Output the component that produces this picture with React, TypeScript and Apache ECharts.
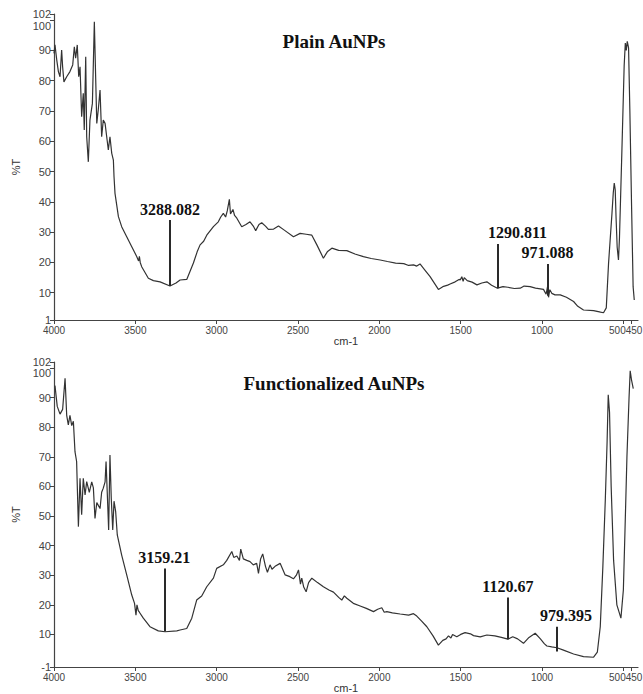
import React, { useEffect, useRef } from 'react';
import * as echarts from 'echarts';

// ---------- data ----------
const xTickValues = [4000, 3500, 3000, 2500, 2000, 1500, 1000, 500, 450];
const plainYTicks = [1, 10, 20, 30, 40, 50, 60, 70, 80, 90, 100, 102];
const funcYTicks = [-1, 10, 20, 30, 40, 50, 60, 70, 80, 90, 100, 102];
const crowdedYTick = 100;

const plainWavenumbers = [
  4000, 3994, 3983, 3973, 3963, 3953, 3947, 3939, 3922, 3902, 3885, 3875, 3867, 3857, 3848, 3840,
  3830, 3820, 3814, 3805, 3799, 3789, 3779, 3764, 3752, 3744, 3737, 3728, 3717, 3707, 3697, 3686,
  3676, 3666, 3656, 3645, 3635, 3631, 3625, 3604, 3584, 3553, 3522, 3491, 3480, 3475, 3470, 3461,
  3420, 3389, 3348, 3287, 3250, 3225, 3184, 3143, 3120, 3102, 3080, 3061, 3020, 2990, 2975, 2959,
  2945, 2935, 2922, 2915, 2900, 2890, 2876, 2846, 2820, 2795, 2775, 2760, 2740, 2723, 2700, 2682,
  2650, 2620, 2580, 2528, 2487, 2450, 2415, 2384, 2344, 2320, 2292, 2250, 2200, 2150, 2098, 2050,
  1995, 1950, 1900, 1850, 1820, 1790, 1770, 1750, 1720, 1688, 1660, 1637, 1610, 1580, 1565, 1534,
  1510, 1503, 1493, 1485, 1478, 1460, 1430, 1400, 1370, 1339, 1310, 1274, 1240, 1210, 1170, 1134,
  1110, 1073, 1040, 1010, 991, 975, 966, 960, 952, 940, 920, 888, 850, 806, 780, 745,
  683, 640, 622, 605, 591, 570, 562, 556, 550, 545, 538, 530, 524, 510, 495, 488,
  482, 476, 468, 460, 450, 440, 433,
];
const plainTransmittance = [
  89.0, 91.8, 86.8, 83.0, 81.3, 90.1, 84.6, 79.6, 81.3, 83.0, 85.2, 91.2, 87.4, 91.8, 81.3, 84.6,
  68.1, 75.8, 63.7, 87.9, 61.5, 53.2, 67.0, 72.5, 99.4, 81.3, 65.9, 70.3, 76.9, 61.5, 67.0, 65.9,
  61.5, 57.1, 61.5, 56.0, 53.8, 48.3, 42.8, 35.1, 31.8, 28.5, 25.2, 21.9, 20.5, 22.0, 20.0, 18.6,
  14.8, 14.0, 13.6, 12.2, 13.2, 14.2, 14.4, 19.8, 23.5, 25.8, 27.0, 29.0, 31.8, 33.4, 35.0, 36.2,
  35.0, 37.0, 40.8, 36.0, 37.5, 35.5, 34.6, 31.8, 32.5, 33.4, 32.0, 30.5, 32.5, 33.1, 32.0, 30.9,
  31.0, 32.0, 30.5, 28.5, 29.6, 29.3, 29.0, 25.8, 21.4, 23.5, 24.7, 24.0, 23.9, 22.8, 21.9, 21.3,
  20.8, 20.3, 19.8, 19.6, 19.0, 19.2, 18.8, 19.5, 17.5, 15.3, 13.0, 11.1, 12.0, 12.5, 12.9, 13.6,
  14.4, 14.2, 15.3, 13.8, 15.0, 14.0, 13.5, 12.6, 13.2, 13.6, 12.5, 11.5, 12.0, 11.8, 11.4, 11.5,
  12.2, 12.0, 11.5, 11.3, 11.1, 9.5, 12.0, 8.5, 11.0, 9.8, 9.3, 9.3, 8.5, 7.1, 5.5, 4.3,
  4.1, 3.6, 3.4, 5.0, 19.7, 36.2, 43.0, 46.2, 44.0, 35.0, 25.0, 20.8, 28.0, 55.0, 85.0, 92.4,
  90.0, 93.0, 90.8, 70.0, 40.0, 12.0, 7.6,
];

const funcWavenumbers = [
  3994, 3980, 3963, 3947, 3932, 3922, 3912, 3902, 3891, 3881, 3871, 3861, 3850, 3840, 3830, 3820,
  3809, 3799, 3783, 3768, 3758, 3748, 3737, 3717, 3707, 3697, 3686, 3680, 3672, 3664, 3656, 3648,
  3639, 3631, 3621, 3611, 3584, 3553, 3522, 3505, 3496, 3490, 3482, 3475, 3451, 3410, 3359, 3317,
  3245, 3225, 3184, 3153, 3123, 3092, 3061, 3020, 3000, 2959, 2938, 2907, 2895, 2876, 2860, 2852,
  2836, 2815, 2795, 2775, 2754, 2743, 2730, 2717, 2700, 2688, 2672, 2660, 2641, 2610, 2579, 2550,
  2528, 2510, 2497, 2485, 2477, 2465, 2450, 2435, 2415, 2380, 2344, 2310, 2282, 2250, 2231, 2215,
  2200, 2160, 2118, 2080, 2036, 2010, 1985, 1970, 1954, 1920, 1872, 1820, 1790, 1770, 1740, 1708,
  1670, 1637, 1610, 1590, 1575, 1560, 1550, 1524, 1500, 1473, 1440, 1421, 1380, 1339, 1290, 1250,
  1210, 1180, 1150, 1114, 1080, 1042, 1010, 985, 970, 940, 908, 868, 806, 745, 683, 660,
  642, 626, 611, 600, 593, 585, 575, 560, 540, 515, 500, 490, 478, 465, 458, 450,
  439,
];
const funcTransmittance = [
  94.0, 87.0, 84.4, 86.0, 96.5, 84.0, 80.8, 84.0, 80.5, 82.0, 71.7, 68.4, 46.4, 62.7, 50.4, 62.7,
  57.1, 61.6, 58.0, 61.5, 59.5, 49.2, 54.5, 52.5, 58.0, 59.4, 61.5, 68.4, 57.0, 45.3, 70.6, 56.0,
  45.3, 55.0, 51.5, 43.6, 36.8, 30.1, 23.3, 20.5, 16.5, 20.0, 18.0, 17.5, 15.5, 12.6, 11.2, 10.9,
  11.2, 11.5, 12.0, 15.5, 21.6, 23.0, 26.1, 29.0, 32.3, 33.5, 35.0, 38.0, 36.0, 36.5, 35.0, 38.8,
  35.5, 35.0, 34.6, 33.5, 34.0, 30.6, 35.5, 37.2, 33.0, 31.0, 33.5, 32.0, 33.0, 34.0, 30.1, 29.5,
  28.8, 30.0, 31.8, 27.0, 29.0, 26.0, 24.4, 27.5, 29.0, 27.5, 26.1, 25.0, 24.3, 22.5, 21.6, 23.0,
  22.2, 20.5, 19.6, 18.8, 17.7, 18.5, 19.0, 17.5, 17.7, 17.3, 16.9, 16.5, 17.0, 16.2, 14.5, 12.6,
  9.5, 6.4, 8.0, 8.5, 9.5, 8.8, 10.0, 9.2, 10.0, 10.6, 10.2, 9.6, 9.2, 9.8, 9.5, 9.0,
  8.4, 9.2, 8.5, 7.0, 9.0, 10.4, 8.5, 6.8, 6.1, 5.8, 5.5, 4.7, 3.4, 2.5, 2.3, 4.0,
  12.6, 32.9, 55.4, 75.0, 90.9, 85.0, 60.0, 35.0, 20.0, 15.5, 25.0, 45.0, 70.0, 90.0, 99.0, 96.0,
  93.0,
];

// annotation peaks: label, position (cm-1), line bottom and top (%T)
const plainPeakLabels = ['3288.082', '1290.811', '971.088'];
const plainPeakWn = [3287, 1274, 966];
const plainPeakFrom = [12.2, 11.5, 9.0];
const plainPeakTo = [34.0, 26.1, 19.5];

const funcPeakLabels = ['3159.21', '1120.67', '979.395'];
const funcPeakWn = [3322, 1210, 908];
const funcPeakFrom = [11.0, 8.4, 4.2];
const funcPeakTo = [32.3, 22.5, 12.6];

const titles = ['Plain AuNPs', 'Functionalized AuNPs'];

// ---------- helpers ----------
const zip = (a: number[], b: number[]) => a.map((v, i) => [v, b[i]]);

const labelOffsets: Record<string, number[]> = {
  '1290.811': [20, 0],
  '979.395': [9, 0],
};

const buildMarkLine = (labels: string[], wn: number[], from: number[], to: number[]) => ({
  symbol: ['none', 'none'],
  silent: true,
  lineStyle: { color: '#2a2a2a', width: 2, type: 'solid' },
  label: {
    show: true,
    position: 'end',
    distance: 3,
    fontFamily: '"Liberation Serif", "Times New Roman", serif',
    fontWeight: 'bold',
    fontSize: 16,
    color: '#111',
  },
  data: labels.map((l, i) => [
    {
      coord: [wn[i], from[i]],
      label: {
        formatter: l,
        offset: labelOffsets[l] || [0, 0],
      },
    },
    { coord: [wn[i], to[i]] },
  ]),
});

const axisFont = '"Liberation Sans", Arial, sans-serif';

const makeXAxis = (gridIndex: number, nameGap: number) => ({
  type: 'value',
  gridIndex,
  inverse: true,
  min: 410,
  max: 4000,
  name: 'cm-1',
  nameLocation: 'middle',
  nameGap,
  nameTextStyle: { fontFamily: axisFont, fontSize: 11, color: '#333' },
  axisLine: { show: true, onZero: false, lineStyle: { color: '#444', width: 1.2 } },
  axisTick: { show: true, customValues: xTickValues, length: 4, lineStyle: { color: '#444' } },
  axisLabel: {
    show: true,
    customValues: xTickValues,
    margin: 5,
    hideOverlap: false,
    showMinLabel: true,
    showMaxLabel: true,
    fontFamily: axisFont,
    fontSize: 10,
    color: '#444',
    formatter: (v: number) => (v === 500 ? '{a|500}' : v === 450 ? '{b|450}' : String(v)),
    rich: {
      a: { padding: [0, 12, 0, 0], fontFamily: axisFont, fontSize: 10, color: '#444' },
      b: { padding: [0, 0, 0, 5], fontFamily: axisFont, fontSize: 10, color: '#444' },
    },
  },
  splitLine: { show: false },
});

const makeYAxis = (gridIndex: number, min: number, ticks: number[]) => ({
  type: 'value',
  gridIndex,
  min,
  max: 102,
  name: '%T',
  nameLocation: 'middle',
  nameGap: 30,
  nameRotate: 90,
  nameTextStyle: { fontFamily: axisFont, fontSize: 11, color: '#333' },
  axisLine: { show: true, onZero: false, lineStyle: { color: '#444', width: 1.2 } },
  axisTick: { show: true, customValues: ticks, length: 4, lineStyle: { color: '#444' } },
  axisLabel: {
    show: true,
    customValues: ticks.filter((t) => t !== crowdedYTick),
    margin: 3,
    hideOverlap: false,
    showMinLabel: true,
    showMaxLabel: true,
    fontFamily: axisFont,
    fontSize: 11,
    color: '#444',
  },
  splitLine: { show: false },
});

// second (label-only) y axis carrying the crowded "100" label just below "102"
const makeCrowdedYAxis = (gridIndex: number, min: number) => ({
  type: 'value',
  gridIndex,
  min,
  max: 102,
  position: 'left',
  axisLine: { show: false, onZero: false },
  axisTick: { show: false },
  splitLine: { show: false },
  axisLabel: {
    show: true,
    customValues: [crowdedYTick],
    margin: 3,
    verticalAlign: 'top',
    showMinLabel: true,
    showMaxLabel: true,
    fontFamily: axisFont,
    fontSize: 11,
    color: '#444',
  },
});

const titleStyle = {
  fontFamily: '"Liberation Serif", "Times New Roman", serif',
  fontWeight: 'bold',
  fontSize: 19,
  color: '#111',
};

export default function App() {
  const ref = useRef<HTMLDivElement>(null);

  useEffect(() => {
    if (!ref.current) return;
    const chart = echarts.init(ref.current, undefined, { renderer: 'svg' });
    const option: any = {
      animation: false,
      backgroundColor: '#ffffff',
      title: [
        { text: titles[0], left: 329, top: 27, textAlign: 'center', textStyle: titleStyle },
        { text: titles[1], left: 329, top: 369, textAlign: 'center', textStyle: titleStyle },
      ],
      grid: [
        { left: 54, top: 14, width: 584, height: 306, containLabel: false, outerBoundsMode: 'none' },
        { left: 54, top: 362, width: 584, height: 305, containLabel: false, outerBoundsMode: 'none' },
      ],
      xAxis: [makeXAxis(0, 13), makeXAxis(1, 14)],
      yAxis: [
        makeYAxis(0, 1, plainYTicks),
        makeYAxis(1, -1, funcYTicks),
        makeCrowdedYAxis(0, 1),
        makeCrowdedYAxis(1, -1),
      ],
      series: [
        {
          type: 'line',
          xAxisIndex: 0,
          yAxisIndex: 0,
          data: zip(plainWavenumbers, plainTransmittance),
          showSymbol: false,
          symbol: 'none',
          lineStyle: { color: '#333', width: 1.2 },
          markLine: buildMarkLine(plainPeakLabels, plainPeakWn, plainPeakFrom, plainPeakTo),
        },
        {
          type: 'line',
          xAxisIndex: 1,
          yAxisIndex: 1,
          data: zip(funcWavenumbers, funcTransmittance),
          showSymbol: false,
          symbol: 'none',
          lineStyle: { color: '#333', width: 1.2 },
          markLine: buildMarkLine(funcPeakLabels, funcPeakWn, funcPeakFrom, funcPeakTo),
        },
      ],
    };
    chart.setOption(option);
    return () => chart.dispose();
  }, []);

  return (
    <div
      ref={ref}
      style={{ position: 'fixed', left: 0, top: 0, width: 643, height: 694, background: '#fff' }}
    />
  );
}
